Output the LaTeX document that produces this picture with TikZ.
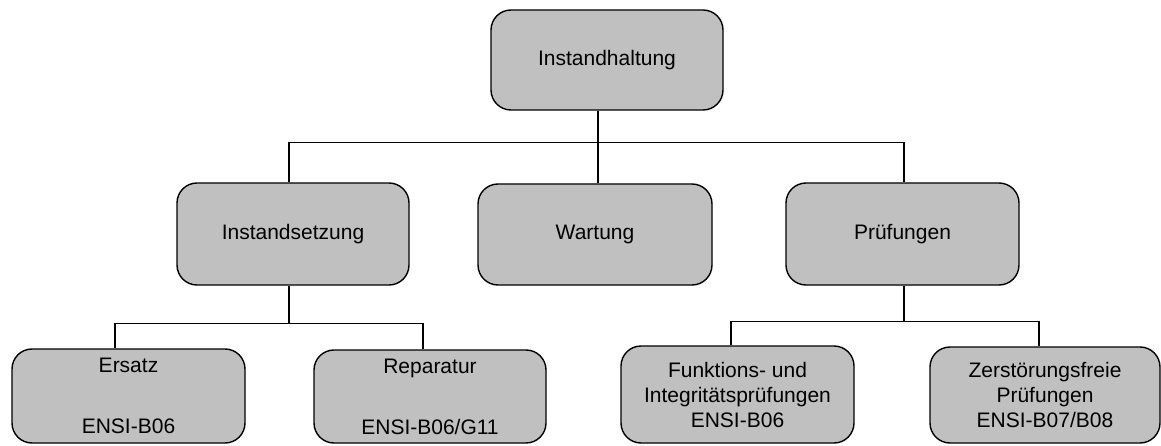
\documentclass[tikz,border=0pt]{standalone}
\usepackage{fontspec}
\setmainfont{Liberation Sans}
\definecolor{boxgray}{RGB}{192,192,192}
\begin{document}
\begin{tikzpicture}[x=1pt,y=-1pt,
  box/.style={draw=black, line width=1.4pt, fill=boxgray, rounded corners=20pt,
    inner sep=0pt, align=center, font=\fontsize{21}{25}\selectfont},
  conn/.style={draw=black, line width=1.3pt}]
\fill[white] (0,0) rectangle (1161,446);
\useasboundingbox (0,0) rectangle (1161,446);

\node[box, minimum width=232pt, minimum height=100pt] (top) at (607,60) {Instandhaltung};
\node[box, minimum width=232pt, minimum height=102pt] (inst) at (293,234) {Instandsetzung};
\node[box, minimum width=234pt, minimum height=101pt] (wart) at (595,234.5) {Wartung};
\node[box, minimum width=233pt, minimum height=102pt] (pruef) at (902.5,234) {Prüfungen};
\node[box, minimum width=233pt, minimum height=94pt] (ersatz) at (128.5,396) {Ersatz\\[36pt]ENSI-B06};
\node[box, minimum width=232pt, minimum height=93pt] (rep) at (430,396.5) {Reparatur\\[36pt]ENSI-B06/G11};
\node[box, minimum width=233pt, minimum height=97pt] (funk) at (737.5,394.5) {Funktions- und\\Integritätsprüfungen\\ENSI-B06};
\node[box, minimum width=230pt, minimum height=96pt] (zer) at (1045,395) {Zerstörungsfreie\\Prüfungen\\ENSI-B07/B08};

\coordinate (pi) at ([xshift=-4pt]inst.north);
\coordinate (pp) at ([xshift=1.5pt]pruef.north);
\draw[conn] ([xshift=-9pt]top.south) -- ++(0,32) coordinate (b1);
\draw[conn] (pi) |- (b1) -| (pp);
\draw[conn] (b1) -- (wart.north -| b1);

\coordinate (pe) at ([xshift=-13.5pt]ersatz.north);
\coordinate (pr) at ([xshift=-7pt]rep.north);
\draw[conn] ([xshift=-4pt]inst.south) -- ++(0,38) coordinate (b2);
\draw[conn] (pe) |- (b2) -| (pr);

\coordinate (pf) at ([xshift=-6.5pt]funk.north);
\coordinate (pz) at ([xshift=-6pt]zer.north);
\draw[conn] ([xshift=1.5pt]pruef.south) -- ++(0,36) coordinate (b3);
\draw[conn] (pf) |- (b3) -| (pz);
\end{tikzpicture}
\end{document}
